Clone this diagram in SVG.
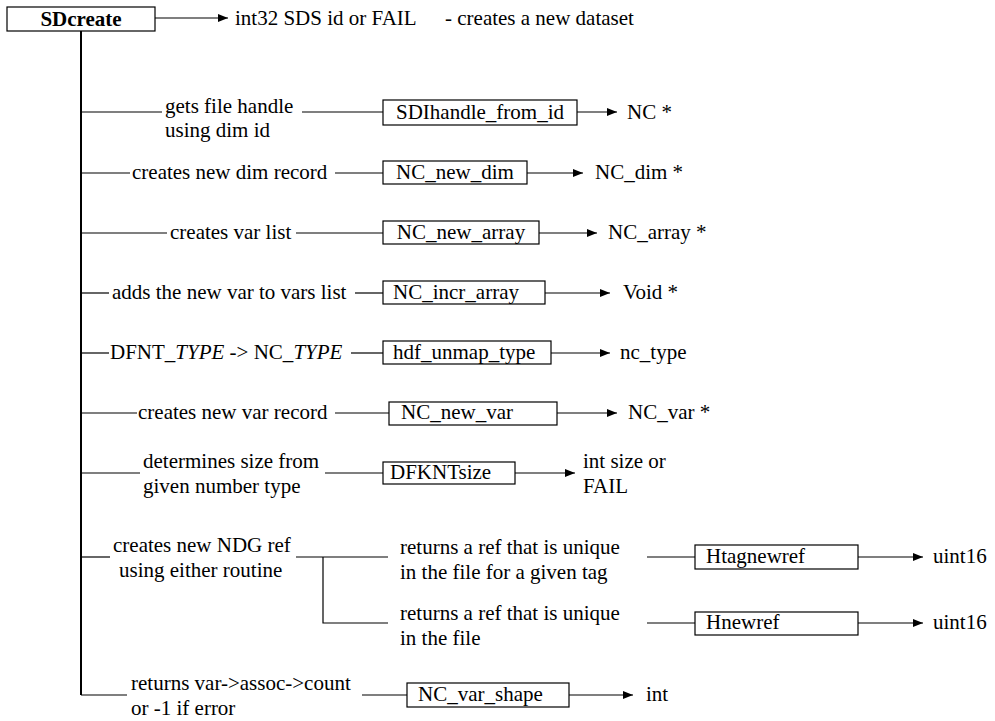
<svg xmlns="http://www.w3.org/2000/svg" width="995" height="721" viewBox="0 0 995 721">
<defs>
<marker id="ah" viewBox="0 0 10 8" refX="10" refY="4" markerWidth="10" markerHeight="8" markerUnits="userSpaceOnUse" orient="auto">
<path d="M0,0 L10,4 L0,8 z" fill="#000"/>
</marker>
</defs>
<style>
.b{font-weight:bold}
.box{fill:#fff;stroke:#000;stroke-width:1.2}
.ln{stroke:#000;stroke-width:1.2;fill:none}
.ar{stroke:#000;stroke-width:1.2;fill:none;marker-end:url(#ah)}
.trunk{stroke:#000;stroke-width:2;fill:none}
</style>
<rect width="995" height="721" fill="#fff"/>
<g font-family="'Liberation Serif', 'Times New Roman', Tinos, 'Nimbus Roman', 'Noto Serif', 'DejaVu Serif', serif" font-size="21" fill="#000">
<g id="connectors">
<line class="trunk" x1="81" y1="31" x2="81" y2="695"/>
<line class="ar" x1="155" y1="18" x2="228" y2="18"/>
<line class="ln" x1="81" y1="112" x2="162" y2="112"/>
<line class="ln" x1="302" y1="112" x2="383" y2="112"/>
<line class="ar" x1="577" y1="112" x2="617" y2="112"/>
<line class="ln" x1="81" y1="173" x2="130" y2="173"/>
<line class="ln" x1="335" y1="173" x2="383" y2="173"/>
<line class="ar" x1="527" y1="173" x2="583" y2="173"/>
<line class="ln" x1="81" y1="233" x2="167" y2="233"/>
<line class="ln" x1="296" y1="233" x2="383" y2="233"/>
<line class="ar" x1="539" y1="233" x2="597" y2="233"/>
<line class="ln" x1="81" y1="293" x2="109" y2="293"/>
<line class="ln" x1="355" y1="293" x2="383" y2="293"/>
<line class="ar" x1="545" y1="293" x2="610" y2="293"/>
<line class="ln" x1="81" y1="353" x2="109" y2="353"/>
<line class="ln" x1="351" y1="353" x2="383" y2="353"/>
<line class="ar" x1="551" y1="353" x2="610" y2="353"/>
<line class="ln" x1="81" y1="413" x2="137" y2="413"/>
<line class="ln" x1="335" y1="413" x2="389" y2="413"/>
<line class="ar" x1="557" y1="413" x2="617" y2="413"/>
<line class="ln" x1="81" y1="473" x2="140" y2="473"/>
<line class="ln" x1="325" y1="473" x2="383" y2="473"/>
<line class="ar" x1="515" y1="473" x2="575" y2="473"/>
<line class="ln" x1="81" y1="557" x2="110" y2="557"/>
<polyline class="ln" points="296,557 388,557"/>
<polyline class="ln" points="323,557 323,623 388,623"/>
<line class="ln" x1="647" y1="557" x2="695" y2="557"/>
<line class="ar" x1="858" y1="557" x2="923" y2="557"/>
<line class="ln" x1="647" y1="623" x2="695" y2="623"/>
<line class="ar" x1="858" y1="623" x2="923" y2="623"/>
<line class="ln" x1="81" y1="695" x2="127" y2="695"/>
<line class="ln" x1="362" y1="695" x2="407" y2="695"/>
<line class="ar" x1="569" y1="695" x2="633" y2="695"/>
</g>
<g id="SDcreate">
<rect class="box" x="7" y="7" width="148" height="24"/>
<text class="b" x="81" y="26" text-anchor="middle">SDcreate</text>
<text x="235" y="25">int32 SDS id or FAIL</text>
<text x="445" y="25">- creates a new dataset</text>
</g>
<g id="SDIhandle_from_id">
<text x="165" y="113">gets file handle</text>
<text x="165" y="137">using dim id</text>
<rect class="box" x="383" y="100" width="194" height="25"/>
<text x="480" y="119" text-anchor="middle">SDIhandle_from_id</text>
<text x="627" y="119">NC *</text>
</g>
<g id="NC_new_dim">
<text x="132" y="179">creates new dim record</text>
<rect class="box" x="383" y="161" width="144" height="23"/>
<text x="455" y="179" text-anchor="middle">NC_new_dim</text>
<text x="595" y="179">NC_dim *</text>
</g>
<g id="NC_new_array">
<text x="170" y="239">creates var list</text>
<rect class="box" x="383" y="221" width="156" height="23"/>
<text x="461" y="239" text-anchor="middle">NC_new_array</text>
<text x="608" y="239">NC_array *</text>
</g>
<g id="NC_incr_array">
<text x="112" y="299">adds the new var to vars list</text>
<rect class="box" x="383" y="281" width="162" height="23"/>
<text x="393" y="299">NC_incr_array</text>
<text x="623" y="299">Void *</text>
</g>
<g id="hdf_unmap_type">
<text x="110" y="359">DFNT_<tspan font-style="italic">TYPE</tspan> -&gt; NC_<tspan font-style="italic">TYPE</tspan></text>
<rect class="box" x="383" y="341" width="168" height="23"/>
<text x="393" y="359">hdf_unmap_type</text>
<text x="620" y="359">nc_type</text>
</g>
<g id="NC_new_var">
<text x="138" y="419">creates new var record</text>
<rect class="box" x="389" y="402" width="168" height="23"/>
<text x="401" y="419">NC_new_var</text>
<text x="628" y="419">NC_var *</text>
</g>
<g id="DFKNTsize">
<text x="143" y="468">determines size from</text>
<text x="143" y="493">given number type</text>
<rect class="box" x="383" y="462" width="132" height="22"/>
<text x="390" y="479">DFKNTsize</text>
<text x="583" y="468">int size or</text>
<text x="583" y="493">FAIL</text>
</g>
<g id="NDG_ref">
<text x="113" y="552">creates new NDG ref</text>
<text x="119" y="577">using either routine</text>
</g>
<g id="Htagnewref">
<text x="400" y="554">returns a ref that is unique</text>
<text x="400" y="579">in the file for a given tag</text>
<rect class="box" x="695" y="545" width="163" height="24"/>
<text x="706" y="563">Htagnewref</text>
<text x="933" y="563">uint16</text>
</g>
<g id="Hnewref">
<text x="400" y="620">returns a ref that is unique</text>
<text x="400" y="645">in the file</text>
<rect class="box" x="695" y="612" width="163" height="23"/>
<text x="706" y="629">Hnewref</text>
<text x="933" y="629">uint16</text>
</g>
<g id="NC_var_shape">
<text x="131" y="690">returns var-&gt;assoc-&gt;count</text>
<text x="131" y="715">or -1 if error</text>
<rect class="box" x="407" y="683" width="162" height="24"/>
<text x="418" y="701">NC_var_shape</text>
<text x="646" y="701">int</text>
</g>
</g>
</svg>
